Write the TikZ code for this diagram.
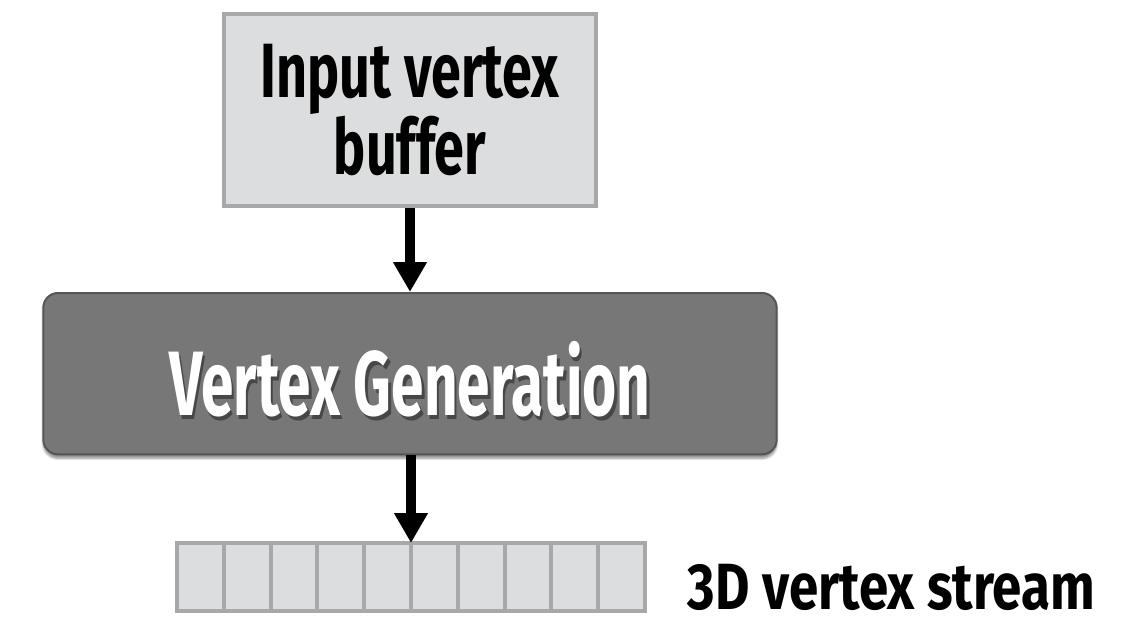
\documentclass[tikz,border=0pt]{standalone}
\usepackage{fontspec}
\usepackage{xcolor}
\usetikzlibrary{positioning,arrows.meta,shadows.blur}
\newfontfamily\condfont[FakeStretch=0.64]{Fira Sans}
\newfontfamily\bufffont[FakeStretch=0.70]{Fira Sans}
\newfontfamily\streamfont[FakeStretch=0.81]{Fira Sans}

\definecolor{boxfill}{HTML}{DCDDDF}
\definecolor{boxline}{HTML}{A7A9A8}
\definecolor{genfill}{HTML}{777777}
\definecolor{genline}{HTML}{555555}

\begin{document}
\begin{tikzpicture}[x=0.75pt,y=-0.75pt,
    bufbox/.style={draw=boxline, fill=boxfill, line width=3pt,
      minimum width=279pt, minimum height=144pt, align=center,
      font=\bufffont\bfseries\fontsize{57.7pt}{54.75pt}\selectfont},
    genbox/.style={draw=genline, fill=genfill, line width=1.5pt,
      rounded corners=11pt, minimum width=550pt, minimum height=121pt,
      blur shadow={shadow xshift=0pt, shadow yshift=-3pt, shadow blur steps=6, shadow opacity=45}},
    genlabel/.style={font=\condfont\bfseries\fontsize{68.6pt}{70pt}\selectfont},
    cell/.style={draw=boxline, fill=boxfill, line width=3pt, outer sep=0pt,
      minimum width=35.1pt, minimum height=51pt, inner sep=0pt},
    flow/.style={line width=7.5pt, -{Triangle[width=24pt,length=22.5pt]}}]
      \useasboundingbox (0,0) rectangle (1146,617);

      % Nodes
      \node[bufbox] (inbuf) at (410,110) {Input vertex\\buffer};
      \node[genbox, below=63pt of inbuf] (vgen) {};
      \node[genlabel, text=black, opacity=0.4] (vgenshadow)
        at ([xshift=1.8pt,yshift=-6.8pt]vgen.center) {Vertex Generation};
      \node[genlabel, text=white] (vgenlbl) at ([yshift=-4.5pt]vgen.center) {Vertex Generation};

      \node[cell] (c1) at (200.4,577) {};
      \foreach \i [remember=\i as \j (initially 1)] in {2,...,10}
        \node[cell, right=0pt of c\j] (c\i) {};
      \node[anchor=base west, inner sep=0pt, text depth=0pt,
        font=\streamfont\bfseries\fontsize{49pt}{50pt}\selectfont]
        (stream) at ([xshift=32pt,yshift=1pt]c10.south east) {3D vertex stream};

      % Arrows
      \draw[flow] (inbuf.south) -- (vgen.north);
      \draw[flow] (vgen.south -| c5.north east) -- (c5.north east);

  \end{tikzpicture}
\end{document}
